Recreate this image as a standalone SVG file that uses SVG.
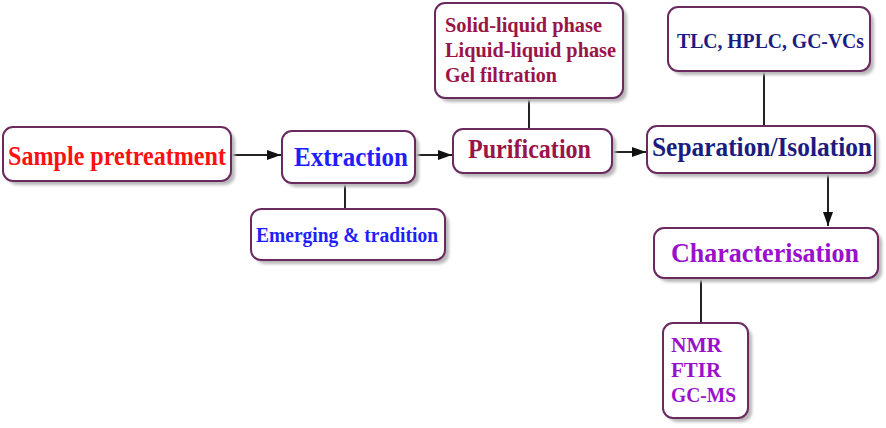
<svg xmlns="http://www.w3.org/2000/svg" width="886" height="428" viewBox="0 0 886 428">
<defs>
<filter id="blur" x="-10%" y="-10%" width="120%" height="120%"><feGaussianBlur stdDeviation="1.5"/></filter>
<marker id="ah" viewBox="0 0 14 10" refX="14" refY="5" markerWidth="14" markerHeight="10" markerUnits="userSpaceOnUse" orient="auto"><path d="M0,0 L14,5 L0,10 z" fill="#111"/></marker>
<style>
.box{fill:#fff;stroke:#6a2a60;stroke-width:2}
.sh{fill:#b8b8b8;filter:url(#blur)}
.t{font-family:"Liberation Serif","Times New Roman",serif;font-weight:bold}
.ln{stroke:#222;stroke-width:2;fill:none}
.ar{stroke:#222;stroke-width:2;fill:none;marker-end:url(#ah)}
</style>
</defs>
<g id="connectors">
<line class="ar" x1="231" y1="155" x2="281" y2="155"/>
<line class="ar" x1="415" y1="155" x2="452" y2="155"/>
<line class="ar" x1="613" y1="152" x2="646" y2="152"/>
<line class="ar" x1="828" y1="173" x2="828" y2="226"/>
<line class="ln" x1="345" y1="183" x2="345" y2="209"/>
<line class="ln" x1="529" y1="98" x2="529" y2="129"/>
<line class="ln" x1="764" y1="71" x2="764" y2="126"/>
<line class="ln" x1="701" y1="278" x2="701" y2="323"/>
</g>
<g id="sample">
<rect class="sh" x="7" y="131" width="228" height="54" rx="10"/>
<rect class="box" x="3" y="127" width="228" height="54" rx="10"/>
<text class="t" x="8" y="165" font-size="27" fill="#ff1010" textLength="218" lengthAdjust="spacingAndGlyphs">Sample pretreatment</text>
</g>
<g id="extraction">
<rect class="sh" x="286" y="135" width="133" height="52" rx="10"/>
<rect class="box" x="282" y="131" width="133" height="52" rx="10"/>
<text class="t" x="294" y="166" font-size="28" fill="#1e1eff" textLength="114" lengthAdjust="spacingAndGlyphs">Extraction</text>
</g>
<g id="emerging">
<rect class="sh" x="255" y="213" width="194" height="51" rx="10"/>
<rect class="box" x="251" y="209" width="194" height="51" rx="10"/>
<text class="t" x="256" y="242" font-size="20" fill="#1e1eff" textLength="182" lengthAdjust="spacingAndGlyphs">Emerging &amp; tradition</text>
</g>
<g id="purification">
<rect class="sh" x="457" y="133" width="159" height="44" rx="10"/>
<rect class="box" x="453" y="129" width="159" height="44" rx="10"/>
<text class="t" x="468" y="158" font-size="27" fill="#9a1448" textLength="123" lengthAdjust="spacingAndGlyphs">Purification</text>
</g>
<g id="phases">
<rect class="sh" x="439" y="7" width="188" height="95" rx="10"/>
<rect class="box" x="435" y="3" width="188" height="95" rx="10"/>
<text class="t" x="445" y="32" font-size="20" fill="#9a1448" textLength="157" lengthAdjust="spacingAndGlyphs">Solid-liquid phase</text>
<text class="t" x="445" y="57" font-size="20" fill="#9a1448" textLength="171" lengthAdjust="spacingAndGlyphs">Liquid-liquid phase</text>
<text class="t" x="445" y="82" font-size="20" fill="#9a1448" textLength="112" lengthAdjust="spacingAndGlyphs">Gel filtration</text>
</g>
<g id="separation">
<rect class="sh" x="651" y="130" width="228" height="47" rx="10"/>
<rect class="box" x="647" y="126" width="228" height="47" rx="10"/>
<text class="t" x="652" y="156" font-size="27" fill="#1c1c80" textLength="220" lengthAdjust="spacingAndGlyphs">Separation/Isolation</text>
</g>
<g id="tlc">
<rect class="sh" x="672" y="11" width="202" height="64" rx="10"/>
<rect class="box" x="668" y="7" width="202" height="64" rx="10"/>
<text class="t" x="677" y="48" font-size="20" fill="#1c1c80" textLength="187" lengthAdjust="spacingAndGlyphs">TLC, HPLC, GC-VCs</text>
</g>
<g id="characterisation">
<rect class="sh" x="658" y="232" width="224" height="50" rx="10"/>
<rect class="box" x="654" y="228" width="224" height="50" rx="10"/>
<text class="t" x="671" y="262" font-size="28" fill="#9a10cc" textLength="188" lengthAdjust="spacingAndGlyphs">Characterisation</text>
</g>
<g id="methods">
<rect class="sh" x="667" y="327" width="85" height="95" rx="10"/>
<rect class="box" x="663" y="323" width="85" height="95" rx="10"/>
<text class="t" x="671" y="352" font-size="20" fill="#9a10cc" textLength="51" lengthAdjust="spacingAndGlyphs">NMR</text>
<text class="t" x="671" y="377" font-size="20" fill="#9a10cc" textLength="50" lengthAdjust="spacingAndGlyphs">FTIR</text>
<text class="t" x="671" y="402" font-size="20" fill="#9a10cc" textLength="65" lengthAdjust="spacingAndGlyphs">GC-MS</text>
</g>
</svg>
